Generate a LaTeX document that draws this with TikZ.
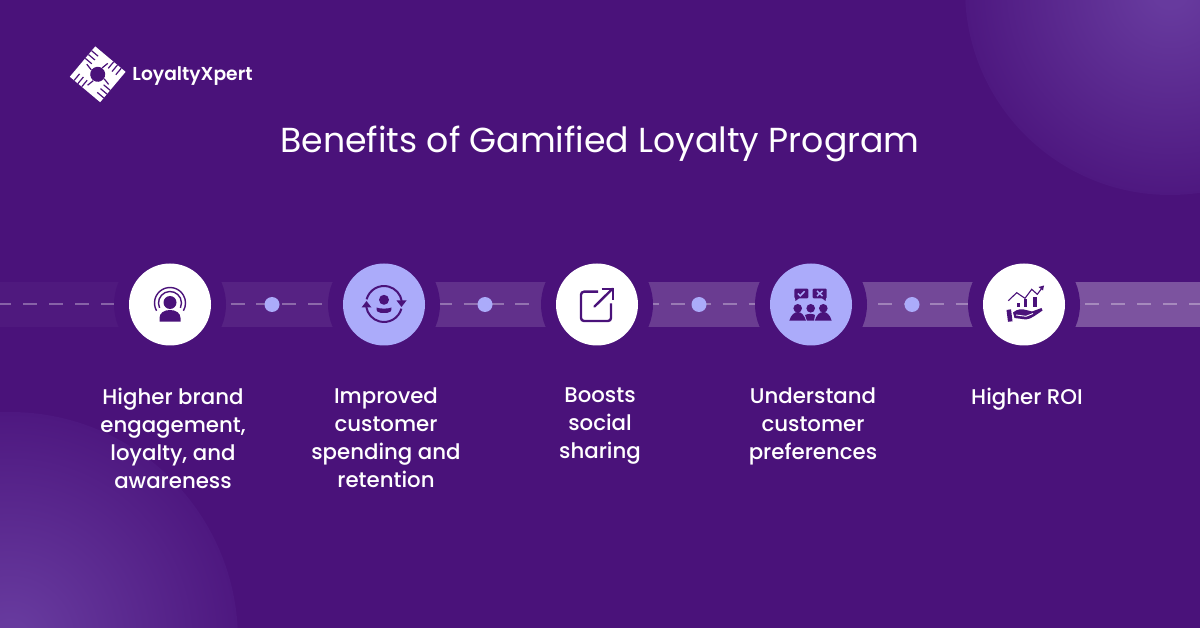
\documentclass[tikz,border=0pt]{standalone}
\usepackage{fontspec}
\setmainfont{Poppins}
\newfontfamily\medfont{Poppins}[UprightFont=* Medium]
\newfontfamily\semifont{Poppins}[UprightFont=* SemiBold]
\usepackage{tikz}
\usetikzlibrary{
  calc,
  positioning,
  shapes}
\definecolor{bgpurple}{HTML}{4A127A}
\definecolor{glowpurple}{HTML}{673A9E}
\definecolor{glowedge}{HTML}{4E1880}
\definecolor{lilac}{HTML}{ABABFA}
\pgfdeclareradialshading{glowshade}{\pgfpoint{0bp}{0bp}}{
  color(0bp)=(glowpurple);
  color(2bp)=(glowpurple);
  color(25bp)=(glowedge);
  color(50bp)=(glowedge)}
\begin{document}
\begin{tikzpicture}[x=1pt,y=-1pt,
    band/.style={fill=white,draw=none},
    gapdisc/.style={circle,fill=bgpurple,minimum size=112pt,inner sep=0pt},
    whitedisc/.style={circle,fill=white,minimum size=82pt,inner sep=0pt},
    lilacdisc/.style={circle,fill=lilac,minimum size=82pt,inner sep=0pt},
    dotnode/.style={circle,fill=lilac,minimum size=15pt,inner sep=0pt},
    caption/.style={align=center,text=white,inner sep=0pt,anchor=north,
        font=\medfont\fontsize{21.3}{28}\selectfont,execute at begin node=\strut},
    ink/.style={fill=bgpurple,draw=none},
    inkline/.style={draw=bgpurple,line width=2pt,fill=none},
    logocut/.style={draw=bgpurple,line width=1.2pt}]
    \useasboundingbox (0,0) rectangle (1200,628);
    \fill[bgpurple] (0,0) rectangle (1200,628);
    % corner glows
    \begin{scope}
        \clip (0,0) rectangle (1200,628);
        \shade[shading=glowshade] (1170,-10) circle (205);
        \shade[shading=glowshade] (10,640) circle (228);
    \end{scope}
    % logo
    \begin{scope}[shift={(97.7,74.3)},rotate=5]
        \fill[white] (-28,0)--(0,-28)--(28,0)--(0,28)--cycle;
        \fill[bgpurple] (0,0) circle (7.5);
        \draw[logocut] (-4,-24)--(2,-18) (-7.5,-20.5)--(-1.5,-14.5) (-11,-17)--(-5,-11);
        \draw[logocut] (24,-4)--(18,2) (20.5,-7.5)--(14.5,-1.5) (17,-11)--(11,-5);
        \draw[logocut] (4,24)--(-2,18) (7.5,20.5)--(1.5,14.5) (11,17)--(5,11);
        \draw[logocut] (-24,4)--(-18,-2) (-20.5,7.5)--(-14.5,1.5) (-17,11)--(-11,5);
        \draw[logocut] (5,-6)--(11,-10) (6,5)--(10,11) (-5,6)--(-11,10) (-6,-5)--(-10,-11);
    \end{scope}
    \node (logotext) at (192.5,76) [text=white,font=\semifont\fontsize{18.7}{20}\selectfont] {LoyaltyXpert};
    \node (title) at (600,143.5) [text=white,font=\fontsize{34.7}{40}\selectfont] {Benefits of Gamified Loyalty Program};
    % bands, lighter to the right
    \fill[band,opacity=0.03] (0,282) rectangle (170,327);
    \fill[band,opacity=0.07] (170,282) rectangle (384,327);
    \fill[band,opacity=0.13] (384,282) rectangle (597,327);
    \fill[band,opacity=0.18] (597,282) rectangle (811,327);
    \fill[band,opacity=0.23] (811,282) rectangle (1024,327);
    \fill[band,opacity=0.28] (1024,282) rectangle (1200,327);
    \coordinate (railstart) at (-2.6,304.5);
    \coordinate (railend) at (1200,304.5);
    \draw[white,opacity=0.32,line width=2pt,dash pattern=on 14pt off 11.9pt] (railstart)--(railend);
    % gaps and discs
    \node (gapa) at (170,304.5) [gapdisc] {};
    \node (gapb) at (384,304.5) [gapdisc] {};
    \node (gapc) at (597,304.5) [gapdisc] {};
    \node (gapd) at (811,304.5) [gapdisc] {};
    \node (gape) at (1024,304.5) [gapdisc] {};
    \node (disca) at (170,304.5) [whitedisc] {};
    \node (discb) at (384,304.5) [lilacdisc] {};
    \node (discc) at (597,304.5) [whitedisc] {};
    \node (discd) at (811,304.5) [lilacdisc] {};
    \node (disce) at (1024,304.5) [whitedisc] {};
    \node (dota) at (272,304.5) [dotnode] {};
    \node (dotb) at (485,304.5) [dotnode] {};
    \node (dotc) at (699,304.5) [dotnode] {};
    \node (dotd) at (912,304.5) [dotnode] {};
    % person with signal arcs
    \begin{scope}[shift={(170,303)}]
        \fill[ink] (0,-0.5) circle (6.5);
        \fill[ink] (-10.5,18.7) -- (-10.5,15) .. controls (-10.5,10) and (-6,7) .. (0,7) .. controls (6,7) and (10.5,10) .. (10.5,15) -- (10.5,18.7) -- cycle;
        \draw[inkline,line width=1.4pt] (150:15.5) arc[start angle=150,end angle=390,radius=15.5];
        \draw[inkline,line width=1.4pt] (155:11.5) arc[start angle=155,end angle=385,radius=11.5];
    \end{scope}
    % person with two turning arrows
    \begin{scope}[shift={(384,304)}]
        \fill[ink] (0,-4.2) circle (5);
        \fill[ink] (-7.5,3.5) .. controls (-4,5) and (4,5) .. (7.5,3.5) .. controls (8,7) and (6,9) .. (3,9) -- (-3,9) .. controls (-6,9) and (-8,7) .. (-7.5,3.5) -- cycle;
        \draw[inkline] (195:18) arc[start angle=195,end angle=350,radius=18];
        \draw[inkline] (15:18) arc[start angle=15,end angle=170,radius=18];
        \fill[ink] (12.5,-3.5)--(22.5,-3.5)--(17.5,3)--cycle;
        \fill[ink] (-12.5,3.5)--(-22.5,3.5)--(-17.5,-3)--cycle;
    \end{scope}
    % box with arrow out
    \draw[inkline,line width=2.4pt,rounded corners=3pt] (598,291.7)--(581,291.7)--(581,321)--(611,321)--(611,303.5);
    \draw[inkline,line width=2.4pt,line cap=round] (594.5,306.5)--(612.5,288.8);
    \draw[inkline,line width=2.4pt] (601.5,288.8)--(613.2,288.8)--(613.2,300);
    % group with two speech bubbles
    \begin{scope}[shift={(811,304.5)}]
        \fill[ink,rounded corners=1pt] (-16.7,-15.8) rectangle (-2.7,-6.2);
        \fill[ink] (-16,-7)--(-15.5,-3.5)--(-11,-7)--cycle;
        \fill[ink,rounded corners=1pt] (1.7,-15.8) rectangle (15.7,-6.2);
        \fill[ink] (15,-7)--(14.5,-3.5)--(10,-7)--cycle;
        \draw[lilac,line width=1.5pt] (-13.2,-11)--(-10.7,-8.7)--(-6.4,-13.2);
        \draw[lilac,line width=1.5pt] (6,-13.5)--(11.5,-8.5) (11.5,-13.5)--(6,-8.5);
        \fill[ink] (-13.3,3.8) circle (4.3);
        \fill[ink] (-0.3,3.8) circle (4.3);
        \fill[ink] (12.3,3.8) circle (4.3);
        \fill[ink] (-21.7,16.2) .. controls (-20,10) and (-16,7.5) .. (-13.3,7.5) .. controls (-10,7.5) and (-7,10) .. (-5,16.2) -- cycle;
        \fill[ink] (-4,16.2) -- (-6,10.5) .. controls (-3,9) and (2,9) .. (4,10.5) -- (3,16.2) -- cycle;
        \fill[ink] (3.8,16.2) .. controls (5.5,10) and (9,7.5) .. (12.3,7.5) .. controls (15.5,7.5) and (19,10) .. (20.7,16.2) -- cycle;
    \end{scope}
    % hand holding a chart
    \draw[inkline,line width=1.1pt] (1008.3,300.7)--(1016.7,292.7)--(1025,298.3)--(1031.7,289.3)--(1037.3,294.3)--(1042,288);
    \fill[ink] (1044,285.5)--(1038.5,287)--(1043,290.5)--cycle;
    \fill[ink] (1016.7,302.7) rectangle (1020,307.3);
    \fill[ink] (1024,299.3) rectangle (1027.3,307.3);
    \fill[ink] (1033.3,297.3) rectangle (1036.7,307.3);
    \fill[ink] (1006.5,310)--(1011,309.3)--(1012.5,321.3)--(1008,321.8)--cycle;
    \fill[ink] (1013,312.5) .. controls (1017,309) and (1022,308.5) .. (1026,310) -- (1032,311.5) -- (1041.5,308) -- (1042.5,310.5) .. controls (1036,315) and (1031,319) .. (1026,319.5) -- (1014.5,318) -- cycle;
    \draw[white,line width=0.9pt] (1016,315)--(1026,316.3)--(1033,313.5);
    % captions
    \node (capa) at (173,387.7) [caption] {Higher brand\\engagement,\\loyalty, and\\awareness};
    \node (capb) at (386,387.7) [caption] {Improved\\customer\\spending and\\retention};
    \node (capc) at (600,387.7) [caption] {Boosts\\social\\sharing};
    \node (capd) at (813,387.7) [caption] {Understand\\customer\\preferences};
    \node (cape) at (1027,384.7) [caption] {Higher ROI};
\end{tikzpicture}
\end{document}
